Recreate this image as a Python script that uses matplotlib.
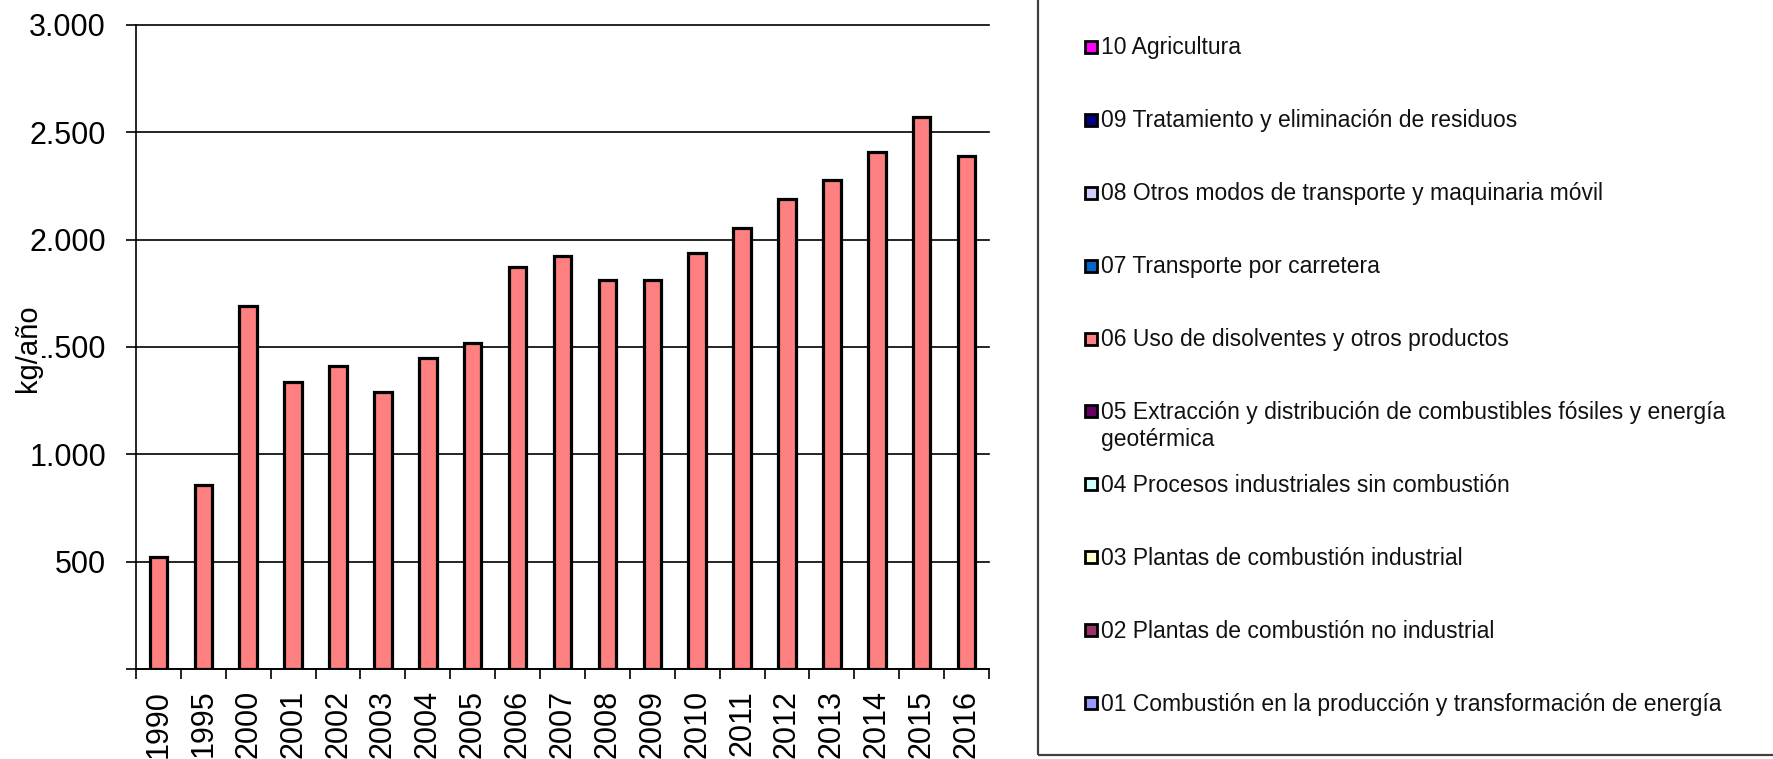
import matplotlib
matplotlib.use('Agg')
import matplotlib.pyplot as plt
from matplotlib.patches import Rectangle

plt.rcParams['font.family'] = ['Liberation Sans', 'DejaVu Sans']

# ---- data ----
years = ['1990', '1995', '2000', '2001', '2002', '2003', '2004', '2005', '2006',
         '2007', '2008', '2009', '2010', '2011', '2012', '2013', '2014', '2015', '2016']
values = [520, 855, 1690, 1335, 1410, 1290, 1450, 1520, 1875,
          1925, 1810, 1810, 1940, 2055, 2190, 2280, 2410, 2570, 2390]
ytick_vals = [0, 500, 1000, 1500, 2000, 2500, 3000]
ytick_labels = ['', '500', '1.000', '1.500', '2.000', '2.500', '3.000']
ylabel = 'kg/año'
bar_color = '#FF8080'

legend_labels = [
    '10 Agricultura',
    '09 Tratamiento y eliminación de residuos',
    '08 Otros modos de transporte y maquinaria móvil',
    '07 Transporte por carretera',
    '06 Uso de disolventes y otros productos',
    '05 Extracción y distribución de combustibles fósiles y energía\ngeotérmica',
    '04 Procesos industriales sin combustión',
    '03 Plantas de combustión industrial',
    '02 Plantas de combustión no industrial',
    '01 Combustión en la producción y transformación de energía',
]
legend_colors = ['#FF00FF', '#000080', '#CCCCFF', '#0066CC', '#FF8080',
                 '#660066', '#CCFFFF', '#FFFFCC', '#993366', '#9999FF']

# ---- layout helpers (pixels -> figure fraction) ----
W, H = 1774, 759
fig = plt.figure(figsize=(W / 100, H / 100), dpi=100)
fig.patch.set_facecolor('white')


def fx(px):
    return px / W


def fy(py):
    return 1 - py / H


ax = fig.add_axes([fx(136), fy(669), fx(989) - fx(136), fy(25) - fy(669)])

xpos = list(range(len(years)))
ax.bar(xpos, values, width=0.39, color=bar_color, edgecolor='black',
       linewidth=2.3, zorder=3)

ax.set_xlim(-0.5, len(years) - 0.5)
ax.set_ylim(0, 3000)

ax.set_yticks(ytick_vals)
ax.set_yticklabels(ytick_labels)
ax.tick_params(axis='y', direction='out', length=7.2, width=1.2, pad=14.4,
               labelsize=22, colors='black')

ax.set_xticks(xpos)
ax.set_xticklabels(years, rotation=90)
ax.tick_params(axis='x', which='major', length=0, pad=15.0, labelsize=22)
ax.set_xticks([i - 0.5 for i in range(len(years) + 1)], minor=True)
ax.tick_params(axis='x', which='minor', direction='out', length=7.2, width=1.2)

ax.set_axisbelow(True)
ax.yaxis.grid(True, color='black', linewidth=1.2)
for gl in ax.get_ygridlines():
    gl.set_clip_on(False)
for s in ['top', 'right']:
    ax.spines[s].set_visible(False)
for s in ['left', 'bottom']:
    ax.spines[s].set_color('black')
    ax.spines[s].set_linewidth(1.2)

# y axis title (covers part of the tick label like the original)
fig.text(fx(28), fy(348), ylabel, rotation=90, ha='center', va='center',
         fontsize=21, bbox=dict(facecolor='white', edgecolor='none', pad=0),
         zorder=5)

# ---- legend box ----
fig.add_artist(Rectangle((fx(1038), fy(755)), 1.0, 1.0, transform=fig.transFigure,
                         fill=False, edgecolor='#404040', linewidth=1.6))

for i, (lab, col) in enumerate(zip(legend_labels, legend_colors)):
    cy = 46.7 + 72.95 * i
    fig.add_artist(Rectangle((fx(1085.5), fy(cy + 6)), 12 / W, 12 / H,
                             transform=fig.transFigure, facecolor=col,
                             edgecolor='black', linewidth=2.0))
    for j, line in enumerate(lab.split('\n')):
        fig.text(fx(1101), fy(cy + 7.6 + 27.3 * j), line, fontsize=16.5,
                 ha='left', va='baseline', color='#111111')

fig.savefig('out.png', dpi=100)
